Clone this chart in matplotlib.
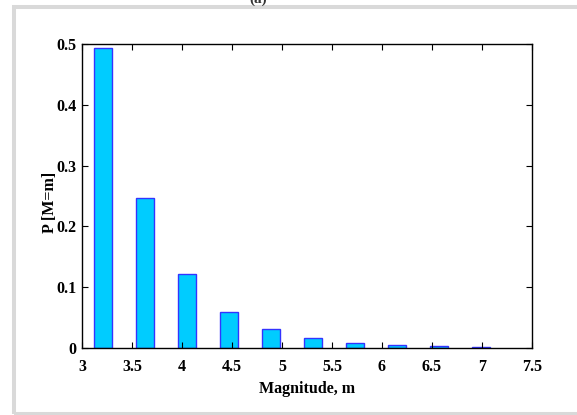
import numpy as np
import matplotlib
matplotlib.use("Agg")
import matplotlib.pyplot as plt
from matplotlib.patches import Rectangle

# histogram of magnitudes (bin centres, probabilities)
mag = [3.21, 3.63, 4.05, 4.47, 4.89, 5.31, 5.73, 6.15, 6.57, 6.99]
prob = [0.494, 0.246, 0.121, 0.060, 0.031, 0.016, 0.008, 0.005, 0.003, 0.0015]
xticks = [3, 3.5, 4, 4.5, 5, 5.5, 6, 6.5, 7, 7.5]
xticklabels = ['3', '3.5', '4', '4.5', '5', '5.5', '6', '6.5', '7', '7.5']
yticks = [0, 0.1, 0.2, 0.3, 0.4, 0.5]
yticklabels = ['0', '0.1', '0.2', '0.3', '0.4', '0.5']

plt.rcParams['font.family'] = ['Liberation Serif', 'DejaVu Serif']
plt.rcParams['font.weight'] = 'bold'

W, H = 577, 415
fig = plt.figure(figsize=(W/100, H/100), dpi=100)

# grey frame around the panel
fig.patches.append(Rectangle((14/W, 1.5/H), 1.2, (H - 7 - 1.5)/H,
                             transform=fig.transFigure, fill=False,
                             edgecolor='#d9d9d9', linewidth=2.9))
fig.text(258/W, 1 - 3/H, '(a)', ha='center', va='baseline', fontsize=11,
         fontweight='bold', color='#333333')

ax = fig.add_axes([82/W, (H-348)/H, (532-82)/W, (348-44)/H])
ax.bar(mag, prob, width=0.185, color='#00ccff', edgecolor='#3333ff', linewidth=1.0)

ax.set_xlim(3, 7.5)
ax.set_ylim(0, 0.5)
ax.set_xticks(xticks)
ax.set_xticklabels(xticklabels)
ax.set_yticks(yticks)
ax.set_yticklabels(yticklabels)
ax.tick_params(direction='in', length=4, width=0.8, top=True, right=True,
               labelsize=11.5)
ax.tick_params(axis='x', pad=8)
ax.tick_params(axis='y', pad=4)
for lab in ax.get_xticklabels() + ax.get_yticklabels():
    lab.set_fontweight('bold')
for s in ax.spines.values():
    s.set_linewidth(1.0)

ax.set_xlabel('Magnitude, m', fontsize=11.5, fontweight='bold', labelpad=4)
ax.set_ylabel('P [M=m]', fontsize=11.5, fontweight='bold')
ax.yaxis.set_label_coords(-0.053, 0.48)

fig.savefig('out.png', dpi=100)
